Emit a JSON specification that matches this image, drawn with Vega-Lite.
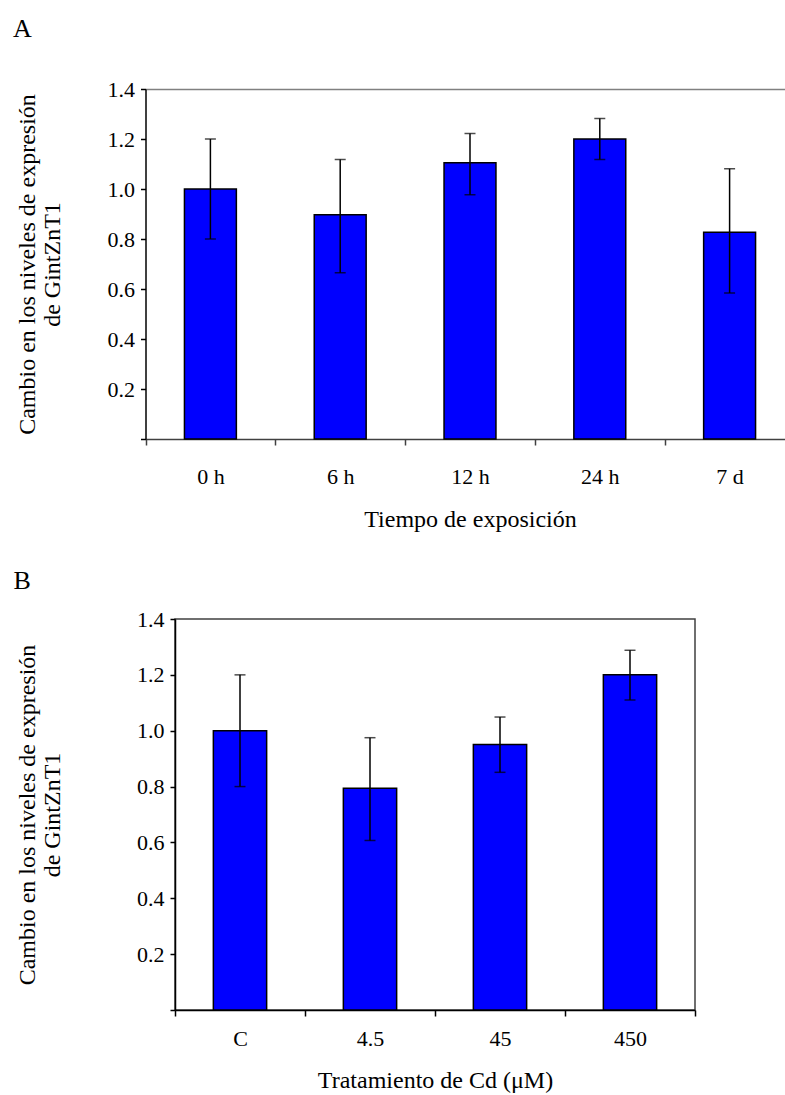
{
  "$schema": "https://vega.github.io/schema/vega-lite/v6.json",
  "background": "white",
  "padding": {"left": 12, "top": 16, "right": 0, "bottom": 0},
  "config": {
    "font": "Liberation Serif",
    "axis": {
      "labelFont": "Liberation Serif", "titleFont": "Liberation Serif",
      "labelFontSize": 22, "titleFontSize": 24, "titleFontWeight": "normal",
      "labelColor": "black", "titleColor": "black",
      "domainColor": "black", "tickColor": "black",
      "domainWidth": 1.5, "tickWidth": 1.5, "grid": false
    },
    "title": {"font": "Liberation Serif", "fontSize": 26, "fontWeight": "normal", "anchor": "start", "frame": "bounds", "color": "black", "dx": -2}
  },
  "datasets": {
    "a": [
      {"t": "0 h", "v": 1.0, "lo": 0.80, "hi": 1.20},
      {"t": "6 h", "v": 0.897, "lo": 0.665, "hi": 1.118},
      {"t": "12 h", "v": 1.105, "lo": 0.977, "hi": 1.222},
      {"t": "24 h", "v": 1.2, "lo": 1.118, "hi": 1.282},
      {"t": "7 d", "v": 0.827, "lo": 0.584, "hi": 1.081}
    ],
    "b": [
      {"c": "C", "v": 1.0, "lo": 0.80, "hi": 1.20},
      {"c": "4.5", "v": 0.794, "lo": 0.607, "hi": 0.975},
      {"c": "45", "v": 0.951, "lo": 0.851, "hi": 1.049},
      {"c": "450", "v": 1.2, "lo": 1.11, "hi": 1.288}
    ]
  },
  "vconcat": [
    {
      "title": {"text": "A", "offset": 36},
      "width": 611,
      "height": 350,
      "view": {"stroke": null},
      "data": {"name": "a"},
      "resolve": {"axis": {"x": "independent"}},
      "layer": [
        {
          "mark": {"type": "bar", "fill": "#0000FF", "stroke": "black", "strokeWidth": 1.5, "width": {"band": 0.4}},
          "encoding": {
            "x": {"field": "t", "type": "nominal", "sort": null, "title": "Tiempo de exposición",
              "scale": {"paddingInner": 0, "paddingOuter": 0, "range": [-29.5, 619.5]},
              "axis": {"orient": "bottom", "labelAngle": 0, "tickBand": "extent", "tickSize": 6, "labelPadding": 21, "titlePadding": 20, "domainColor": "#404040", "tickColor": "#404040"}},
            "y": {"field": "v", "type": "quantitative", "title": ["Cambio en los niveles de expresión", "de GintZnT1"],
              "scale": {"domain": [0, 1.4], "nice": false},
              "axis": {"offset": 29.5, "values": [0, 0.2, 0.4, 0.6, 0.8, 1.0, 1.2, 1.4], "labelExpr": "datum.value == 0 ? '' : format(datum.value, '.1f')", "tickSize": 5, "labelPadding": 6, "titlePadding": 43, "titleLineHeight": 25}}
          }
        },
        {
          "mark": {"type": "errorbar", "ticks": {"size": 11, "thickness": 1.5, "color": "black"}, "rule": {"strokeWidth": 1.5, "color": "black"}},
          "encoding": {
            "x": {"field": "t", "type": "nominal", "sort": null, "title": null,
              "axis": {"orient": "top", "labels": false, "ticks": false, "title": null, "domainColor": "#808080"}},
            "y": {"field": "lo", "type": "quantitative", "title": ["Cambio en los niveles de expresión", "de GintZnT1"]},
            "y2": {"field": "hi"}
          }
        }
      ]
    },
    {
      "title": {"text": "B", "offset": 14},
      "width": 520,
      "height": 391,
      "view": {"stroke": "#404040", "strokeWidth": 1.5},
      "data": {"name": "b"},
      "layer": [
        {
          "mark": {"type": "bar", "fill": "#0000FF", "stroke": "black", "strokeWidth": 1.5, "width": {"band": 0.41}},
          "encoding": {
            "x": {"field": "c", "type": "nominal", "sort": null, "title": "Tratamiento de Cd (μM)",
              "scale": {"paddingInner": 0, "paddingOuter": 0},
              "axis": {"labelAngle": 0, "tickBand": "extent", "tickSize": 6, "labelPadding": 12, "titlePadding": 19}},
            "y": {"field": "v", "type": "quantitative", "title": ["Cambio en los niveles de expresión", "de GintZnT1"],
              "scale": {"domain": [0, 1.4], "nice": false},
              "axis": {"values": [0, 0.2, 0.4, 0.6, 0.8, 1.0, 1.2, 1.4], "labelExpr": "datum.value == 0 ? '' : format(datum.value, '.1f')", "tickSize": 5, "labelPadding": 6, "titlePadding": 72, "titleLineHeight": 25}}
          }
        },
        {
          "mark": {"type": "errorbar", "ticks": {"size": 11, "thickness": 1.5, "color": "black"}, "rule": {"strokeWidth": 1.5, "color": "black"}},
          "encoding": {
            "x": {"field": "c", "type": "nominal", "sort": null, "title": "Tratamiento de Cd (μM)"},
            "y": {"field": "lo", "type": "quantitative", "title": ["Cambio en los niveles de expresión", "de GintZnT1"]},
            "y2": {"field": "hi"}
          }
        }
      ]
    }
  ],
  "spacing": 36
}
